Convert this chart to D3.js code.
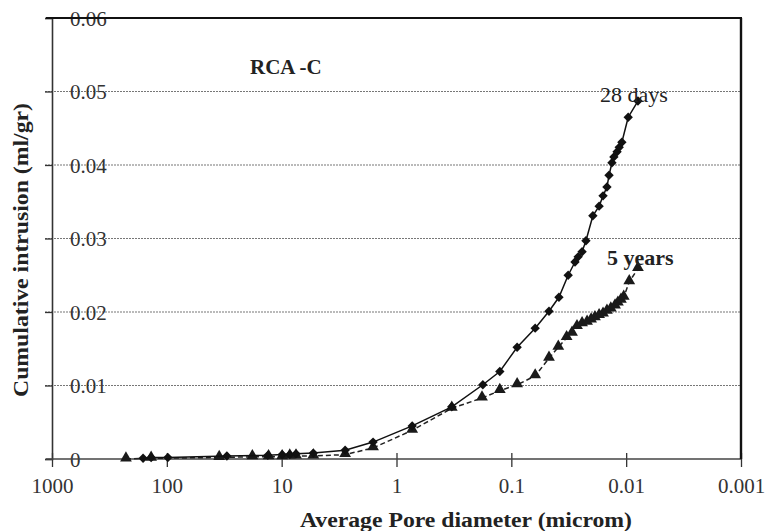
<!DOCTYPE html>
<html>
<head>
<meta charset="utf-8">
<script src="https://cdn.jsdelivr.net/npm/d3@7"></script>
<style>
  body { margin: 0; background: #fff; }
  svg { display: block; font-family: "Liberation Serif", "Times New Roman", serif; }
</style>
</head>
<body>
<svg id="chart"></svg>
<script>
// pore diameter (microm) and cumulative intrusion (ml/gr)
const days28Diameter = [161, 137, 98, 30, 13.2, 9.9, 8.5, 7.5, 5.3, 2.8, 1.6, 0.73, 0.33, 0.177, 0.126,
  0.089, 0.062, 0.047, 0.0385, 0.032, 0.0279, 0.0262, 0.0242, 0.0224, 0.0195, 0.0172, 0.0159,
  0.0147, 0.0141, 0.0133, 0.0128, 0.012, 0.0115, 0.0109, 0.0096, 0.0079];
const days28Intrusion = [0.0001, 0.0002, 0.0002, 0.0004, 0.0005, 0.0006, 0.0006, 0.0007, 0.0008, 0.0012,
  0.0023, 0.0045, 0.0071, 0.0101, 0.0119, 0.0152, 0.0178, 0.0201, 0.022, 0.025, 0.0268, 0.0275,
  0.0282, 0.0297, 0.0331, 0.0344, 0.0358, 0.037, 0.0386, 0.0403, 0.0411, 0.0418, 0.0424, 0.0431,
  0.0465, 0.0487];

const years5Diameter = [227, 137, 35, 18, 13, 9.9, 8.5, 7.5, 5.3, 2.8, 1.6, 0.73, 0.33, 0.18, 0.126,
  0.089, 0.062, 0.047, 0.039, 0.033, 0.0296, 0.0268, 0.0242, 0.0219, 0.0202, 0.0187, 0.0172,
  0.0159, 0.0147, 0.0136, 0.0125, 0.0118, 0.0111, 0.0105, 0.0094, 0.0079];
const years5Intrusion = [0.0, 0.0001, 0.0002, 0.0003, 0.0003, 0.0003, 0.0004, 0.0004, 0.0004, 0.0006,
  0.0015, 0.0039, 0.0069, 0.0083, 0.0093, 0.0101, 0.0113, 0.0137, 0.0152, 0.0165, 0.0171, 0.018,
  0.0184, 0.0186, 0.0189, 0.0192, 0.0195, 0.0197, 0.0201, 0.0204, 0.0208, 0.0212, 0.0216, 0.022,
  0.0241, 0.0259];

const xTickValues = [1000, 100, 10, 1, 0.1, 0.01, 0.001];
const xTickLabels = ["1000", "100", "10", "1", "0.1", "0.01", "0.001"];
const yTickValues = [0, 0.01, 0.02, 0.03, 0.04, 0.05, 0.06];
const yTickLabels = ["0", "0.01", "0.02", "0.03", "0.04", "0.05", "0.06"];

const dimensions = { width: 766, height: 531 };
const plot = { left: 52, right: 741, top: 18, bottom: 459 };

const svg = d3.select('#chart').attr('width', dimensions.width).attr('height', dimensions.height);

// log axis runs from large pores on the left to small on the right
const x = d3.scaleLog().domain([1000, 0.001]).range([plot.left, plot.right]);
const y = d3.scaleLinear().domain([0, 0.06]).range([plot.bottom, plot.top]);

// dotted gridlines
svg.append('g')
  .selectAll('line')
  .data(yTickValues.filter(v => v > 0 && v < 0.06))
  .join('line')
  .attr('x1', plot.left - 7).attr('x2', plot.right)
  .attr('y1', d => y(d)).attr('y2', d => y(d))
  .attr('stroke', '#777').attr('stroke-width', 1.2).attr('stroke-dasharray', '2,1');

// y axis (labels sit just inside the frame, like the original)
const yAxis = d3.axisLeft(y).tickValues(yTickValues).tickSize(7).tickFormat((d, i) => yTickLabels[i]);
const gy = svg.append('g').attr('transform', `translate(${plot.left},0)`).call(yAxis);
gy.select('.domain').attr('stroke', '#333').attr('stroke-width', 1.6);
gy.selectAll('.tick line').attr('stroke', '#333').attr('stroke-width', 1.3);
gy.selectAll('.tick text')
  .attr('x', 18).attr('dy', '0.35em')
  .attr('text-anchor', 'start')
  .attr('font-size', 21).attr('fill', '#333')
  .attr('font-family', '"Liberation Serif", serif');

// x axis, tick marks cross the line
const xAxis = d3.axisBottom(x).tickValues(xTickValues).tickSize(8).tickFormat((d, i) => xTickLabels[i]);
const gx = svg.append('g').attr('transform', `translate(0,${plot.bottom})`).call(xAxis);
gx.select('.domain').remove();
gx.selectAll('.tick line').attr('y1', -6).attr('stroke', '#333').attr('stroke-width', 1.3);
gx.selectAll('.tick text')
  .attr('y', 27).attr('dy', '0.35em')
  .attr('font-size', 21).attr('fill', '#333')
  .attr('font-family', '"Liberation Serif", serif');
svg.append('line')
  .attr('x1', plot.left - 6).attr('x2', plot.right)
  .attr('y1', plot.bottom).attr('y2', plot.bottom)
  .attr('stroke', '#444').attr('stroke-width', 1.6);

// top and right frame
svg.append('line')
  .attr('x1', plot.left - 6).attr('x2', plot.right + 1)
  .attr('y1', plot.top).attr('y2', plot.top)
  .attr('stroke', '#111').attr('stroke-width', 2.2);
svg.append('line')
  .attr('x1', plot.right).attr('x2', plot.right)
  .attr('y1', plot.top).attr('y2', plot.bottom)
  .attr('stroke', '#111').attr('stroke-width', 2.4);

const line = d3.line().x(d => x(d[0])).y(d => y(d[1]));
const days28 = days28Diameter.map((d, i) => [d, days28Intrusion[i]]);
const years5 = years5Diameter.map((d, i) => [d, years5Intrusion[i]]);

// 5 years: dashed line, triangles
svg.append('path').datum(years5).attr('d', line)
  .attr('fill', 'none').attr('stroke', '#222').attr('stroke-width', 1.5).attr('stroke-dasharray', '5,3');
svg.append('g').selectAll('path').data(years5).join('path')
  .attr('d', d3.symbol(d3.symbolTriangle, 60))
  .attr('transform', d => `translate(${x(d[0])},${y(d[1]) - 1})`)
  .attr('fill', '#1a1a1a');

// 28 days: solid line, diamonds
svg.append('path').datum(days28).attr('d', line)
  .attr('fill', 'none').attr('stroke', '#111').attr('stroke-width', 1.5);
svg.append('g').selectAll('path').data(days28).join('path')
  .attr('d', d3.symbol(d3.symbolSquare, 44))
  .attr('transform', d => `translate(${x(d[0])},${y(d[1])}) rotate(45)`)
  .attr('fill', '#111');

// annotations
svg.append('text').attr('x', 250).attr('y', 74)
  .attr('font-size', 21).attr('font-weight', 'bold').attr('fill', '#222')
  .text('RCA -C');
svg.append('text').attr('x', 600).attr('y', 102)
  .attr('font-size', 22).attr('fill', '#222')
  .text('28 days');
svg.append('text').attr('x', 607).attr('y', 265)
  .attr('font-size', 22).attr('font-weight', 'bold').attr('fill', '#222')
  .text('5 years');

// axis titles
svg.append('text')
  .attr('x', 300).attr('y', 527)
  .attr('font-size', 20).attr('font-weight', 'bold').attr('fill', '#222')
  .attr('textLength', 332).attr('lengthAdjust', 'spacingAndGlyphs')
  .text('Average Pore diameter (microm)');
svg.append('text')
  .attr('transform', 'translate(28,397) rotate(-90)')
  .attr('font-size', 20).attr('font-weight', 'bold').attr('fill', '#222')
  .attr('textLength', 294).attr('lengthAdjust', 'spacingAndGlyphs')
  .text('Cumulative intrusion (ml/gr)');
</script>
</body>
</html>
